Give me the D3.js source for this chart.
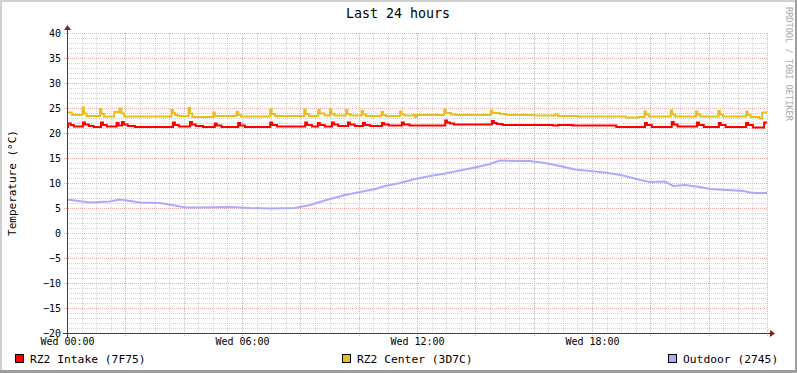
<!DOCTYPE html>
<html>
<head>
<meta charset="utf-8">
<script src="https://cdn.jsdelivr.net/npm/d3@7"></script>
<style>
  body { margin: 0; background: #fff; }
  svg text { font-family: "DejaVu Sans Mono", monospace; }
</style>
</head>
<body>
<svg id="chart" width="797" height="373"></svg>
<script>
// time in minutes since Wed 00:00, values in °C
const redIntake = [
  [0,21.2],[2,21.9],[8,21.6],[14,21.3],[31,21.3],[33,22.1],[37,21.7],[45,21.4],[55,21.2],
  [68,21.2],[70,22.1],[74,21.6],[82,21.3],[100,21.3],[102,22.0],[106,21.5],[111,21.5],
  [113,22.2],[117,21.7],[125,21.4],[140,21.2],[216,21.2],[218,22.1],[222,21.6],[230,21.3],
  [251,21.3],[253,22.2],[257,21.7],[265,21.4],[280,21.2],[302,21.2],[304,21.9],[308,21.5],
  [318,21.2],[350,21.2],[352,22.0],[356,21.5],[366,21.2],[416,21.2],[418,22.1],[422,21.6],
  [432,21.3],[488,21.3],[490,22.1],[494,21.6],[504,21.3],[514,21.3],[516,22.0],[520,21.6],
  [530,21.3],[543,21.3],[545,22.1],[549,21.7],[558,21.4],[576,21.4],[578,22.1],[582,21.7],
  [592,21.4],[607,21.4],[609,22.0],[613,21.6],[623,21.4],[646,21.4],[648,22.0],[652,21.7],
  [662,21.5],[687,21.5],[689,22.1],[693,21.7],[705,21.5],[776,21.5],[778,22.5],[782,22.1],
  [788,21.9],[796,21.7],[872,21.7],[874,22.4],[878,22.0],[884,21.8],[896,21.6],[980,21.6],
  [1000,21.5],[1010,21.6],[1040,21.5],[1120,21.5],[1130,21.2],[1187,21.2],[1189,22.0],
  [1193,21.6],[1203,21.2],[1242,21.2],[1244,22.2],[1248,21.7],[1256,21.3],[1294,21.3],
  [1296,22.1],[1300,21.6],[1310,21.2],[1339,21.2],[1341,22.0],[1345,21.6],[1355,21.2],
  [1395,21.2],[1397,22.0],[1401,21.6],[1411,21.1],[1432,21.1],[1434,22.1],[1440,22.1]
];

const yellowCenter = [
  [0,24.1],[10,23.6],[32,25.1],[35,23.9],[40,23.4],[68,24.8],[71,23.8],[76,23.3],[97,24.2],
  [106,24.2],[108,24.9],[112,23.9],[118,23.3],[215,24.6],[218,24.0],[222,23.6],[228,23.4],
  [250,25.0],[253,23.9],[258,23.2],[301,24.1],[304,23.4],[349,24.2],[352,23.6],[358,23.3],
  [418,24.7],[421,23.8],[428,23.4],[488,24.7],[491,23.8],[498,23.4],[517,24.6],[520,23.9],
  [530,23.5],[541,24.7],[544,23.8],[550,23.5],[574,24.6],[577,23.8],[583,23.5],[606,24.4],
  [609,23.7],[615,23.4],[647,24.2],[650,23.6],[656,23.4],[685,24.3],[688,23.7],[694,23.5],
  [712,23.6],[716,23.2],[720,23.6],[776,24.7],[779,24.0],[790,23.7],[800,23.6],[872,24.5],
  [875,24.0],[890,23.8],[905,23.6],[960,23.5],[1000,23.5],[1004,23.7],[1010,23.4],
  [1050,23.3],[1150,23.1],[1175,23.2],[1188,24.3],[1191,23.7],[1197,23.3],[1242,24.5],
  [1245,23.7],[1251,23.3],[1294,24.3],[1297,23.7],[1303,23.3],[1340,24.4],[1343,23.7],
  [1349,23.3],[1397,24.3],[1400,23.6],[1406,23.2],[1424,22.9],[1430,24.1],[1440,24.1]
];

const outdoor = [
  [0,6.7],[16,6.5],[47,6.1],[88,6.3],[109,6.7],[130,6.4],[150,6.1],[191,6.0],[222,5.5],
  [243,5.1],[274,5.1],[335,5.2],[376,5.0],[418,4.9],[469,5.0],[500,5.6],[520,6.2],[541,6.8],
  [572,7.6],[603,8.2],[634,8.8],[654,9.4],[685,10.0],[716,10.8],[747,11.4],[778,11.9],
  [808,12.5],[839,13.1],[870,13.8],[891,14.5],[922,14.4],[952,14.4],[983,14.0],[1014,13.4],
  [1045,12.7],[1076,12.4],[1096,12.2],[1127,11.8],[1148,11.4],[1179,10.6],[1199,10.2],
  [1230,10.3],[1247,9.4],[1271,9.6],[1302,9.2],[1323,8.8],[1358,8.6],[1391,8.4],[1411,8.0],
  [1440,8.0]
];

const xLabelTimes = [0, 360, 720, 1080];
const xLabels = ["Wed 00:00", "Wed 06:00", "Wed 12:00", "Wed 18:00"];
const yTicks = [40, 35, 30, 25, 20, 15, 10, 5, 0, -5, -10, -15, -20];
const seriesNames = ["RZ2 Intake (7F75)", "RZ2 Center (3D7C)", "Outdoor (2745)"];
const seriesColors = ["#ff0000", "#e8bf1f", "#aaaaff"];

const W = 797, H = 373;
const svg = d3.select("#chart");

// frame
svg.append("rect").attr("width", W).attr("height", H).attr("fill", "#fff");
svg.append("rect").attr("x", 0).attr("y", 0).attr("width", W).attr("height", 2).attr("fill", "#cfcfcf");
svg.append("rect").attr("x", 0).attr("y", 0).attr("width", 2).attr("height", H).attr("fill", "#cfcfcf");
svg.append("rect").attr("x", 0).attr("y", H - 3).attr("width", W).attr("height", 3).attr("fill", "#9e9e9e");
svg.append("rect").attr("x", W - 2).attr("y", 0).attr("width", 2).attr("height", H).attr("fill", "#9e9e9e");

const x = d3.scaleLinear().domain([0, 1440]).range([67, 767]);
const y = d3.scaleLinear().domain([-20, 40]).range([333, 33]);

const grid = svg.append("g").attr("shape-rendering", "crispEdges");

// minor grid
d3.range(30, 1441, 30).filter(t => t % 120 !== 0).forEach(t => {
  grid.append("line")
    .attr("x1", Math.round(x(t)) + 0.5).attr("x2", Math.round(x(t)) + 0.5)
    .attr("y1", 33).attr("y2", 333)
    .attr("stroke", "#d2d2d2").attr("stroke-dasharray", "1,1");
});
d3.range(-19, 41, 1).filter(v => v % 5 !== 0).forEach(v => {
  grid.append("line")
    .attr("x1", 67).attr("x2", 767)
    .attr("y1", y(v) + 0.5).attr("y2", y(v) + 0.5)
    .attr("stroke", "#d2d2d2").attr("stroke-dasharray", "1,1");
});
// major grid
d3.range(120, 1441, 120).forEach(t => {
  grid.append("line")
    .attr("x1", Math.round(x(t)) + 0.5).attr("x2", Math.round(x(t)) + 0.5)
    .attr("y1", 33).attr("y2", 336)
    .attr("stroke", "#eaaaaa").attr("stroke-dasharray", "1,1");
});
yTicks.forEach(v => {
  grid.append("line")
    .attr("x1", 64).attr("x2", 767)
    .attr("y1", y(v) + 0.5).attr("y2", y(v) + 0.5)
    .attr("stroke", "#eaaaaa").attr("stroke-dasharray", "1,1");
});

// data lines
const line = d3.line().x(d => x(d[0])).y(d => y(d[1]));
[redIntake, yellowCenter].forEach((data, i) => {
  svg.append("path")
    .attr("d", line.curve(d3.curveStepAfter)(data))
    .attr("fill", "none")
    .attr("stroke", seriesColors[i])
    .attr("stroke-width", 2);
});
svg.append("path")
  .attr("d", line.curve(d3.curveLinear)(outdoor))
  .attr("fill", "none")
  .attr("stroke", seriesColors[2])
  .attr("stroke-width", 2);

// axes
const axes = svg.append("g").attr("shape-rendering", "crispEdges");
axes.append("line").attr("x1", 63).attr("x2", 770).attr("y1", 333.5).attr("y2", 333.5).attr("stroke", "#404040");
axes.append("line").attr("x1", 67.5).attr("x2", 67.5).attr("y1", 337).attr("y2", 30).attr("stroke", "#404040");
svg.append("path").attr("d", "M770,330 L775,333.5 L770,337 Z").attr("fill", "#802020");
svg.append("path").attr("d", "M64,30 L67.5,25 L71,30 Z").attr("fill", "#802020");

// tick labels
const yAxis = d3.axisLeft(y).tickValues(yTicks).tickSize(0).tickPadding(6);
svg.append("g").attr("transform", "translate(67,0)").call(yAxis)
  .call(g => g.select(".domain").remove())
  .selectAll("text")
  .attr("font-family", "DejaVu Sans Mono").attr("font-size", "10px").attr("fill", "#000");

const xAxis = d3.axisBottom(x).tickValues(xLabelTimes).tickSize(0).tickPadding(5)
  .tickFormat((d, i) => xLabels[i]);
svg.append("g").attr("transform", "translate(0,333)").call(xAxis)
  .call(g => g.select(".domain").remove())
  .selectAll("text")
  .attr("font-family", "DejaVu Sans Mono").attr("font-size", "10px").attr("fill", "#000");

// title and labels
svg.append("text").attr("x", 398).attr("y", 18).attr("text-anchor", "middle")
  .attr("font-size", "13.3px").attr("fill", "#000").text("Last 24 hours");
svg.append("text").attr("transform", "translate(16,183) rotate(-90)").attr("text-anchor", "middle")
  .attr("font-size", "11px").attr("fill", "#000").text("Temperature (°C)");
svg.append("text").attr("transform", "translate(786,7) rotate(90)")
  .attr("font-size", "8.6px").attr("fill", "#aaaaaa").text("RRDTOOL / TOBI OETIKER");

// legend
const legendX = [15, 342, 668];
seriesNames.forEach((name, i) => {
  svg.append("rect").attr("x", legendX[i] + 0.5).attr("y", 354.5).attr("width", 8).attr("height", 8)
    .attr("fill", seriesColors[i]).attr("stroke", "#000").attr("stroke-width", 1)
    .attr("shape-rendering", "crispEdges");
  svg.append("text").attr("x", legendX[i] + 15).attr("y", 362.5)
    .attr("font-size", "11.3px").attr("fill", "#000").text(name);
});
</script>
</body>
</html>
